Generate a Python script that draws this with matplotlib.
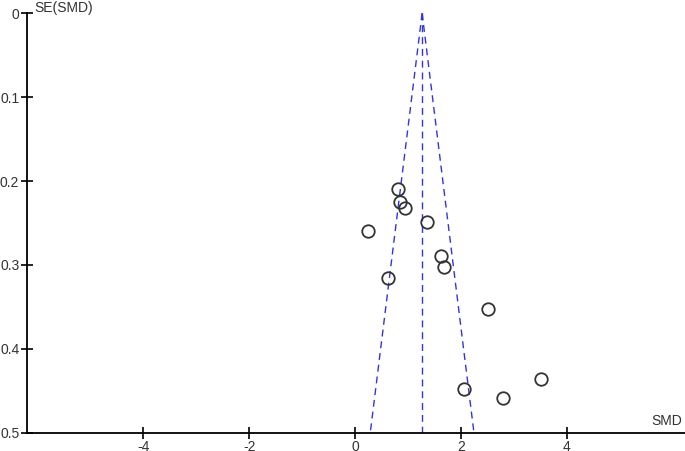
import matplotlib
matplotlib.use("Agg")
import matplotlib.pyplot as plt
import numpy as np

matplotlib.rcParams["font.family"] = ["Liberation Sans", "DejaVu Sans"]

# study estimates
smd = [0.81, 0.85, 0.95, 0.25, 1.36, 1.62, 1.68, 0.63, 2.52, 3.51, 2.06, 2.80]
se = [0.210, 0.225, 0.232, 0.259, 0.249, 0.289, 0.303, 0.316, 0.352, 0.436, 0.448, 0.459]
pooled = 1.27
se_max = 0.5

x_ticks = [-4, -2, 0, 2, 4]
y_ticks = [0, 0.1, 0.2, 0.3, 0.4, 0.5]
y_ticklabels = ["0", "0.1", "0.2", "0.3", "0.4", "0.5"]

fig = plt.figure(figsize=(6.85, 4.51), dpi=100)
ax = fig.add_axes([0.0394, 0.0406, 0.9606, 0.930])

# funnel (95% pseudo-CI) and pooled line
se_line = np.array([0, se_max])
blue = "#3333e6"
for xs in (pooled - 1.96 * se_line, pooled + 1.96 * se_line, [pooled, pooled]):
    ax.plot(xs, se_line, color=blue, linewidth=1.0, dashes=(5, 3.5))

ax.plot(smd, se, "o", markersize=9, markerfacecolor="none",
        markeredgecolor="#333333", markeredgewidth=1.3, linestyle="none")

ax.set_xlim(-6.2, 6.24)
ax.set_ylim(se_max, 0)
ax.set_xticks(x_ticks)
ax.set_xticklabels([str(t) for t in x_ticks])
ax.set_yticks(y_ticks)
ax.set_yticklabels(y_ticklabels)

for s in ["top", "right"]:
    ax.spines[s].set_visible(False)
for s in ["left", "bottom"]:
    ax.spines[s].set_linewidth(1.3)
ax.tick_params(direction="inout", length=8, width=1.2, labelsize=10,
               labelcolor="#333333")
ax.tick_params(axis="x", pad=1.5)
ax.tick_params(axis="y", pad=1.5)

ax.text(0.9955, 0.019, "SMD", transform=ax.transAxes, ha="right", va="baseline",
        fontsize=10, color="#333333")
ax.text(0.0106, 1.004, "SE(SMD)", transform=ax.transAxes, ha="left", va="baseline",
        fontsize=10, color="#333333")

plt.savefig("out.png", dpi=100)
